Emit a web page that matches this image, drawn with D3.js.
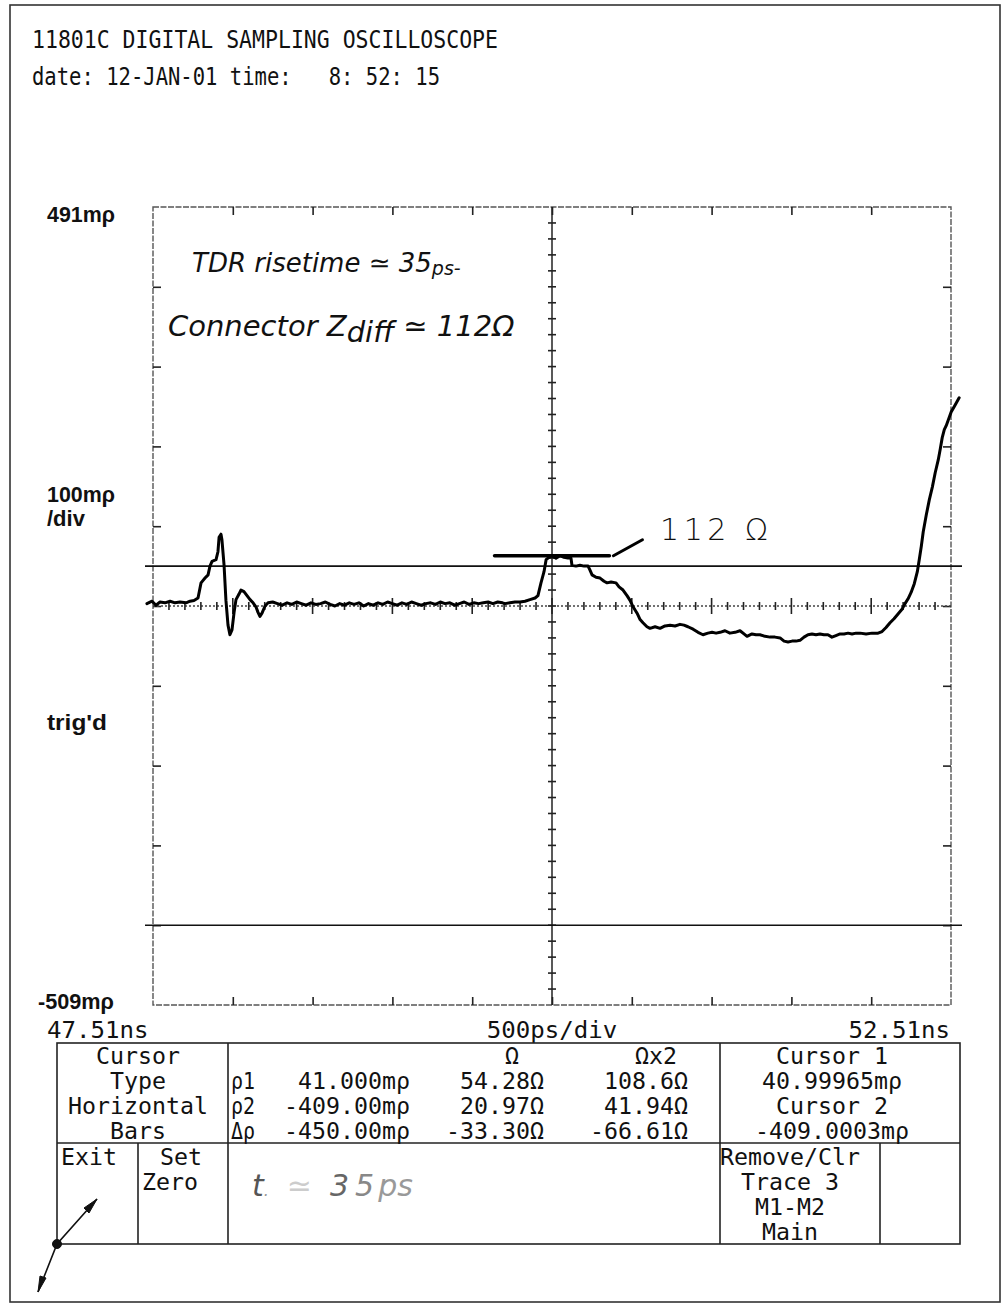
<!DOCTYPE html>
<html>
<head>
<meta charset="utf-8">
<script src="https://cdn.jsdelivr.net/npm/d3@7"></script>
<style>
  html, body { margin: 0; padding: 0; background: #fff; }
  svg { display: block; }
  text { white-space: pre; }
</style>
</head>
<body>
<svg id="scope" width="1005" height="1305"></svg>
<script>
// ---------------- readout text ----------------
const titleLine = "11801C DIGITAL SAMPLING OSCILLOSCOPE";
const stampLine = "date: 12-JAN-01 time:\u00a0\u00a0 8:\u00a052:\u00a015";
const rhoLimitLabels = ["491mρ", "-509mρ"];
const rhoScaleLabels = ["100mρ", "/div"];
const triggerLabel = "trig'd";
const timeAxisLabels = ["47.51ns", "500ps/div", "52.51ns"];

// ---------------- display ranges ----------------
const timeRange = [47.51, 52.51];   // ns, 500 ps/div
const rhoRange = [-509, 491];       // mρ, 100 mρ/div
const timePerDiv = 0.5;
const rhoPerDiv = 100;

// horizontal bar cursors (mρ)
const cursorLevels = [40.99965, -409.0003];

// TDR trace: time (ns) and reflection coefficient (mρ)
const traceTime = [
  47.472, 47.504, 47.529, 47.554, 47.585, 47.617, 47.648, 47.679, 47.717, 47.742, 47.767, 47.792,
  47.811, 47.836, 47.855, 47.867, 47.880, 47.905, 47.917, 47.924, 47.936, 47.942, 47.955, 47.967,
  47.980, 47.992, 48.005, 48.018, 48.030, 48.049, 48.061, 48.080, 48.099, 48.118, 48.137, 48.155,
  48.168, 48.180, 48.193, 48.212, 48.231,
  48.26, 48.29, 48.32, 48.35, 48.38, 48.41, 48.44, 48.47, 48.50, 48.53, 48.56, 48.59, 48.62,
  48.65, 48.68, 48.71, 48.74, 48.77, 48.80, 48.83, 48.86, 48.89, 48.92, 48.95, 48.98, 49.01,
  49.04, 49.07, 49.10, 49.13, 49.16, 49.19, 49.22, 49.25, 49.28, 49.31, 49.34, 49.37, 49.40,
  49.43, 49.46, 49.49, 49.52, 49.55, 49.58, 49.61, 49.64, 49.67, 49.70,
  49.716, 49.747, 49.778, 49.810, 49.841, 49.872, 49.904, 49.922, 49.941, 49.960, 49.973, 49.991,
  50.010, 50.035, 50.060, 50.085, 50.110, 50.129, 50.135, 50.160, 50.185, 50.211, 50.236, 50.248,
  50.261, 50.286, 50.311, 50.336, 50.355, 50.380, 50.411, 50.430, 50.455, 50.480, 50.499, 50.518,
  50.543, 50.562, 50.580, 50.605, 50.624, 50.656, 50.687, 50.718, 50.750, 50.781, 50.812, 50.837,
  50.862, 50.894, 50.925, 50.956, 50.987, 51.013, 51.038, 51.063, 51.094, 51.125, 51.157, 51.188,
  51.213, 51.232, 51.263, 51.288, 51.313, 51.345, 51.376, 51.407, 51.439, 51.464, 51.489, 51.514,
  51.539, 51.564, 51.589, 51.614, 51.639, 51.664, 51.689, 51.714, 51.739, 51.764, 51.789, 51.815,
  51.840, 51.865, 51.890, 51.915, 51.940, 51.978, 52.015, 52.053, 52.078, 52.103, 52.128, 52.153,
  52.178, 52.203, 52.222, 52.241, 52.260, 52.280, 52.299, 52.311, 52.324, 52.336, 52.355, 52.374,
  52.393, 52.411, 52.430, 52.443, 52.455, 52.468, 52.480, 52.493, 52.511, 52.536, 52.561
];
const traceRho = [
  -6, -3, -8, -4, -5, -3, -5, -4, -5, -3, -2, 1,
  20, 26, 30, 41, 47, 49, 59, 77, 81, 74, 43, -2,
  -33, -45, -39, -17, -1, 6, 11, 9, 4, -1, -5, -10,
  -17, -22, -18, -9, -5,
  -4, -6, -8, -5, -7, -4, -6, -8, -5, -7, -6, -4, -7,
  -9, -6, -8, -5, -7, -5, -9, -6, -8, -5, -7, -4, -6,
  -8, -5, -7, -4, -6, -8, -6, -5, -7, -4, -6, -5, -8,
  -6, -4, -7, -5, -6, -5, -4, -6, -4, -5,
  -6, -5, -4, -4, -3, -1, 1, 4, 20, 34, 49, 52,
  54, 51, 54, 52, 51, 51, 42, 41, 42, 41, 41, 36,
  30, 27, 26, 22, 20, 21, 20, 15, 11, 4, -2, -10,
  -18, -26, -30, -35, -37, -35, -37, -34, -33, -34, -32, -33,
  -35, -38, -42, -45, -43, -42, -43, -42, -40, -43, -42, -40,
  -44, -47, -44, -45, -45, -47, -48, -48, -49, -53, -54, -53,
  -53, -52, -48, -45, -44, -45, -44, -45, -45, -48, -46, -44,
  -44, -43, -44, -43, -43, -44, -43, -43, -41, -36, -30, -25,
  -19, -13, -6, 0, 8, 19, 34, 49, 66, 84, 105, 124,
  140, 158, 174, 188, 202, 212, 217, 224, 234, 243, 252
];

// hand-drawn 112 Ω marker: level (mρ) and time span (ns)
const markerLevel = 54;
const markerSpan = [49.65, 50.37];

// cursor readout table
const cursorTypeLines = ["Cursor", "Type", "Horizontal", "Bars"];
const cursorHeaders = ["Ω", "Ωx2"];
const cursorRowNames = ["ρ1", "ρ2", "Δρ"];
const cursorRhoValues = ["41.000mρ", "-409.00mρ", "-450.00mρ"];
const cursorOhmValues = ["54.28Ω", "20.97Ω", "-33.30Ω"];
const cursorOhmX2Values = ["108.6Ω", "41.94Ω", "-66.61Ω"];
const cursorReadout = ["Cursor 1", "40.99965mρ", "Cursor 2", "-409.0003mρ"];
const menuLabels = ["Exit", "Set", "Zero"];
const traceMenu = ["Remove/Clr", "Trace 3", "M1-M2", "Main"];

// ---------------- drawing ----------------
const MONO = "'DejaVu Sans Mono', 'Liberation Mono', monospace";
const SANS = "'Liberation Sans', Arial, sans-serif";
const HAND = "'DejaVu Sans', 'Noto Sans', sans-serif";

const svg = d3.select("#scope");
const plot = { left: 153, right: 951, top: 207, bottom: 1005 };

const x = d3.scaleLinear().domain(timeRange).range([plot.left, plot.right]);
const y = d3.scaleLinear().domain(rhoRange).range([plot.bottom, plot.top]);

function label(g, str, px, py, o = {}) {
  const t = g.append("text")
    .attr("x", px).attr("y", py)
    .attr("font-family", o.family || MONO)
    .attr("font-size", o.size || 23)
    .attr("text-anchor", o.anchor || "start")
    .attr("fill", o.fill || "#111")
    .text(str);
  if (o.weight) t.attr("font-weight", o.weight);
  if (o.style) t.attr("font-style", o.style);
  if (o.len) t.attr("textLength", o.len).attr("lengthAdjust", "spacingAndGlyphs");
  else if (o.pitch) t.attr("textLength", str.length * o.pitch).attr("lengthAdjust", "spacingAndGlyphs");
  return t;
}

// page border
svg.append("rect")
  .attr("x", 10).attr("y", 5).attr("width", 990).attr("height", 1297)
  .attr("fill", "none").attr("stroke", "#333").attr("stroke-width", 1.6);

// header
const head = svg.append("g");
label(head, titleLine, 32, 48, { len: 466, size: 24 });
label(head, stampLine, 32, 85, { len: 408, size: 24 });

// graticule frame
const grid = svg.append("g");
grid.append("rect")
  .attr("x", plot.left).attr("y", plot.top)
  .attr("width", plot.right - plot.left).attr("height", plot.bottom - plot.top)
  .attr("fill", "none").attr("stroke", "#555").attr("stroke-width", 1.4)
  .attr("stroke-dasharray", "6,1.5");

const timeDivs = d3.range(1, 10).map(k => timeRange[0] + k * timePerDiv);
const rhoDivs = d3.range(1, 10).map(k => rhoRange[0] + k * rhoPerDiv);
const tMid = (timeRange[0] + timeRange[1]) / 2;
const rMid = (rhoRange[0] + rhoRange[1]) / 2;

function edgeAxis(axis, tx, ty) {
  grid.append("g")
    .attr("transform", `translate(${tx},${ty})`)
    .attr("color", "#222")
    .call(axis)
    .call(s => s.select(".domain").remove())
    .call(s => s.selectAll("line").attr("stroke-width", 1.6));
}
edgeAxis(d3.axisBottom(x).tickValues(timeDivs).tickSize(8).tickFormat(""), 0, plot.top);
edgeAxis(d3.axisTop(x).tickValues(timeDivs).tickSize(8).tickFormat(""), 0, plot.bottom);
edgeAxis(d3.axisRight(y).tickValues(rhoDivs).tickSize(8).tickFormat(""), plot.left, 0);
edgeAxis(d3.axisLeft(y).tickValues(rhoDivs).tickSize(8).tickFormat(""), plot.right, 0);

// centre vertical graticule line with fifth-division ticks
grid.append("line")
  .attr("x1", x(tMid)).attr("x2", x(tMid))
  .attr("y1", plot.top).attr("y2", plot.bottom)
  .attr("stroke", "#222").attr("stroke-width", 1.5);
const rhoMinor = d3.range(1, 50).map(k => rhoRange[0] + k * rhoPerDiv / 5);
grid.selectAll("line.vminor").data(rhoMinor).join("line")
  .attr("class", "vminor")
  .attr("x1", x(tMid) - 4).attr("x2", x(tMid) + 4)
  .attr("y1", d => y(d)).attr("y2", d => y(d))
  .attr("stroke", "#222").attr("stroke-width", 1.6);

// centre horizontal graticule line (dotted) with ticks, longer at each division
grid.append("line")
  .attr("x1", plot.left).attr("x2", plot.right)
  .attr("y1", y(rMid)).attr("y2", y(rMid))
  .attr("stroke", "#444").attr("stroke-width", 1.5).attr("stroke-dasharray", "2,2");
const timeMinor = d3.range(1, 50).map(k => ({ t: timeRange[0] + k * timePerDiv / 5, major: k % 5 === 0 }));
grid.selectAll("line.hminor").data(timeMinor).join("line")
  .attr("class", "hminor")
  .attr("x1", d => x(d.t)).attr("x2", d => x(d.t))
  .attr("y1", d => y(rMid) - (d.major ? 8 : 4))
  .attr("y2", d => y(rMid) + (d.major ? 8 : 4))
  .attr("stroke", "#222").attr("stroke-width", 1.6);

// cursor bars
svg.append("g").selectAll("line").data(cursorLevels).join("line")
  .attr("x1", plot.left - 8).attr("x2", plot.right + 11)
  .attr("y1", d => y(d)).attr("y2", d => y(d))
  .attr("stroke", "#111").attr("stroke-width", 1.6);

// TDR trace
const tracePts = traceTime.map((t, i) => [t, traceRho[i]]);
svg.append("path")
  .datum(tracePts)
  .attr("fill", "none").attr("stroke", "#000").attr("stroke-width", 3)
  .attr("stroke-linejoin", "round").attr("stroke-linecap", "round")
  .attr("d", d3.line().x(d => x(d[0])).y(d => y(d[1])));

// axis labels
const axl = svg.append("g");
const bold = { family: SANS, weight: "bold", size: 22 };
label(axl, rhoLimitLabels[0], 47, 222, { ...bold, len: 68 });
label(axl, rhoLimitLabels[1], 38, 1009, { ...bold, len: 76 });
label(axl, rhoScaleLabels[0], 47, 502, { ...bold, len: 68 });
label(axl, rhoScaleLabels[1], 47, 526, { ...bold });
label(axl, triggerLabel, 47, 730, { ...bold, len: 60 });
label(axl, timeAxisLabels[0], 47, 1038, { pitch: 14.5 });
label(axl, timeAxisLabels[1], 552, 1038, { pitch: 14.5, anchor: "middle" });
label(axl, timeAxisLabels[2], 950, 1038, { pitch: 14.5, anchor: "end" });

// handwritten notes (one text element per line, smaller raised/lowered parts as tspans)
const hand = svg.append("g").attr("font-family", HAND).attr("font-style", "italic")
  .attr("font-weight", 200).attr("fill", "#111");
const n1 = hand.append("text").attr("x", 192).attr("y", 272).attr("font-size", 26);
n1.append("tspan").text("TDR risetime ≃ 35");
n1.append("tspan").attr("font-size", 19).attr("dy", 3).text("ps-");
const n2 = hand.append("text").attr("x", 168).attr("y", 336).attr("font-size", 29);
n2.append("tspan").text("Connector Z");
n2.append("tspan").attr("dy", 6).text("diff");
n2.append("tspan").attr("dy", -6).text(" ≃ 112Ω");

// 112 Ω marker on the connector plateau
svg.append("line")
  .attr("x1", x(markerSpan[0])).attr("x2", x(markerSpan[1]))
  .attr("y1", y(markerLevel)).attr("y2", y(markerLevel))
  .attr("stroke", "#000").attr("stroke-width", 3.5).attr("stroke-linecap", "round");
svg.append("line")
  .attr("x1", x(markerSpan[1]) + 4).attr("y1", y(markerLevel))
  .attr("x2", x(markerSpan[1]) + 33).attr("y2", y(markerLevel) - 16)
  .attr("stroke", "#000").attr("stroke-width", 3).attr("stroke-linecap", "round");
svg.append("text").attr("x", 660).attr("y", 540)
  .attr("font-family", HAND).attr("font-weight", 200).attr("font-size", 30).attr("fill", "#111")
  .attr("textLength", 108).attr("lengthAdjust", "spacing")
  .text("112 Ω");

// cursor readout table
const tb = { L: 57, R: 960, T: 1043, M: 1143, B: 1244, c1: 228, c2: 720, s1: 138, s2: 880 };
const tab = svg.append("g").attr("stroke", "#222").attr("stroke-width", 1.6);
tab.append("rect").attr("x", tb.L).attr("y", tb.T).attr("width", tb.R - tb.L)
  .attr("height", tb.B - tb.T).attr("fill", "none");
tab.append("line").attr("x1", tb.L).attr("x2", tb.R).attr("y1", tb.M).attr("y2", tb.M);
tab.append("line").attr("x1", tb.c1).attr("x2", tb.c1).attr("y1", tb.T).attr("y2", tb.B);
tab.append("line").attr("x1", tb.c2).attr("x2", tb.c2).attr("y1", tb.T).attr("y2", tb.B);
tab.append("line").attr("x1", tb.s1).attr("x2", tb.s1).attr("y1", tb.M).attr("y2", tb.B);
tab.append("line").attr("x1", tb.s2).attr("x2", tb.s2).attr("y1", tb.M).attr("y2", tb.B);

const rowsTop = [1064, 1089, 1114, 1139];
const rowsBot = [1165, 1190, 1215, 1240];
const tt = svg.append("g");
const P = 14;
cursorTypeLines.forEach((s, i) => label(tt, s, 138, rowsTop[i], { pitch: P, anchor: "middle" }));
label(tt, cursorHeaders[0], 512, rowsTop[0], { pitch: P, anchor: "middle" });
label(tt, cursorHeaders[1], 656, rowsTop[0], { pitch: P, anchor: "middle" });
cursorRowNames.forEach((s, i) => label(tt, s, 231, rowsTop[i + 1], { pitch: 12 }));
cursorRhoValues.forEach((s, i) => label(tt, s, 410, rowsTop[i + 1], { pitch: P, anchor: "end" }));
cursorOhmValues.forEach((s, i) => label(tt, s, 544, rowsTop[i + 1], { pitch: P, anchor: "end" }));
cursorOhmX2Values.forEach((s, i) => label(tt, s, 688, rowsTop[i + 1], { pitch: P, anchor: "end" }));
cursorReadout.forEach((s, i) => label(tt, s, 832, rowsTop[i], { pitch: P, anchor: "middle" }));
label(tt, menuLabels[0], 61, rowsBot[0], { pitch: P });
label(tt, menuLabels[1], 160, rowsBot[0], { pitch: P });
label(tt, menuLabels[2], 142, rowsBot[1], { pitch: P });
traceMenu.forEach((s, i) => label(tt, s, 790, rowsBot[i], { pitch: P, anchor: "middle" }));

// faint handwritten rise-time note in the table
const n3 = svg.append("text").attr("x", 252).attr("y", 1196)
  .attr("font-family", HAND).attr("font-style", "italic").attr("font-weight", 200)
  .attr("font-size", 30);
n3.append("tspan").attr("fill", "#555").text("t");
n3.append("tspan").attr("fill", "#999").attr("font-size", 16).text(".");
n3.append("tspan").attr("fill", "#ccc").attr("dx", 18).text("≃");
n3.append("tspan").attr("fill", "#666").attr("dx", 18).text("3");
n3.append("tspan").attr("fill", "#888").attr("dx", 6).text("5");
n3.append("tspan").attr("fill", "#999").attr("dx", 4).text("ps");

// pointer arrow at the table corner
const ptr = svg.append("g").attr("stroke", "#111").attr("fill", "#111");
ptr.append("polyline").attr("points", "38,1292 57,1244 97,1199")
  .attr("fill", "none").attr("stroke-width", 1.6);
ptr.append("circle").attr("cx", 57).attr("cy", 1244).attr("r", 4.5);
ptr.append("polygon").attr("points", "97,1199 84,1208 89,1213").attr("stroke-width", 1);
ptr.append("polygon").attr("points", "38,1292 40,1276 46,1278").attr("stroke-width", 1);
</script>
</body>
</html>
